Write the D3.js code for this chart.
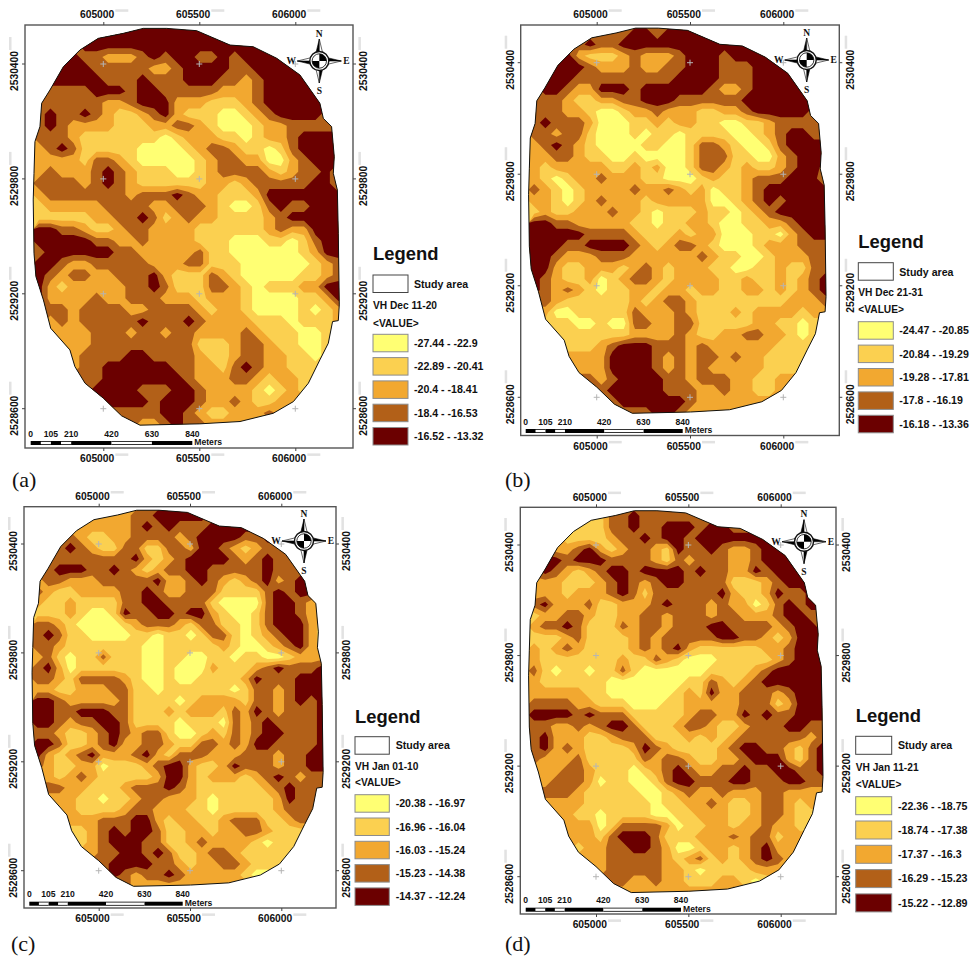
<!DOCTYPE html>
<html>
<head>
<meta charset="utf-8">
<title>VH backscatter maps</title>
<script src="https://cdn.jsdelivr.net/npm/d3@7"></script>
<style>
    html, body { margin: 0; padding: 0; background: #fff; }
    svg { display: block; }
    text { font-family: "Liberation Sans", Arial, sans-serif; font-weight: bold; fill: #111; }
</style>
</head>
<body>
<svg id="chart" width="978" height="956"></svg>
<script>
// map easting / northing ticks
const xTicks = [605000, 605500, 606000];
const yTicks = [2530400, 2529800, 2529200, 2528600];
const scaleBarMeters = [0, 105, 210, 420, 630, 840];
const classColors = ["#ffff73", "#fbd050", "#f2a830", "#b26018", "#6b0000"];

// class grid: 27 x 35 cells of 60 m, digit = legend class (0 lightest, 4 darkest)
const gridOriginX = 604635;
const gridOriginY = 2530587;
const gridCell = 60;

// study area outline in map metres [easting, northing]
const studyArea = [
    [605208, 2530586], [605330, 2530586], [605486, 2530574], [605660, 2530499], [605781, 2530490],
    [605903, 2530430], [606024, 2530343], [606128, 2530195], [606146, 2530116], [606189, 2530073],
    [606203, 2529916], [606198, 2529829], [606219, 2529742], [606224, 2529516], [606229, 2529142],
    [606224, 2529060], [606194, 2529055], [606172, 2528942], [606128, 2528855], [606068, 2528733],
    [605990, 2528637], [605885, 2528576], [605712, 2528533], [605503, 2528521], [605191, 2528514],
    [605095, 2528563], [605000, 2528655], [604905, 2528733], [604852, 2528820], [604826, 2528907],
    [604726, 2529020], [604688, 2529168], [604649, 2529290], [604639, 2529412], [604635, 2529690],
    [604639, 2529829], [604644, 2529995], [604670, 2530073], [604679, 2530195], [604722, 2530264],
    [604792, 2530386], [604878, 2530473], [604974, 2530534], [605104, 2530560]
];

const gridA = [
    "444444444444444444444444444", "333344444444444444444444444", "444433222343443343444444444",
    "444443333322344443344444444", "444444333433344433234444444", "333334443443333322234444444",
    "333333223444222111234444444", "343343211234211100123444433", "343222211122332100012233333",
    "333211111110122211012234444", "234311111000012332110134444", "222213321000001233220023444",
    "232223432111001233332123342", "333323432111111221233333442", "233333332333432211124444444",
    "122222333322333210013433444", "111112233431232211112344444", "443321123322221111112322444",
    "444443322322221110001101344", "344444433222223110000001244", "443223333322233111000000123",
    "432332233342111321000001123", "421222223343111332101112244", "422223223332221222100001124",
    "333233332233332122100001012", "323233333433343222211101112", "222223332332332222321110011",
    "222223333333331112332110011", "222233334433332112332211011", "222233444444332213432211111",
    "333333444444432223321221111", "333334444333443222210121111", "333333444434443223211222222",
    "333333333334432112223222222", "333333333223433222222222222"
];
const gridB = [
    "333333333443444444444444444", "333334334444444444444444444", "444421112322234443444444444",
    "444443222322334443334444444", "444433333333344443334444444", "344322444344444432234444444",
    "333211223344433333344444444", "333221001223222112234444433", "343332000112122110011233333",
    "332331000101101111001234433", "234321000011001332100134444", "223321100100001333110023444",
    "212222211212001332121123443", "210122322211000121123334442", "321012222322321201123444444",
    "221012322212222200123434444", "121122232210111211012344444", "443322222110112210011223444",
    "444443333211121220001102344", "444334444321233210001222333", "443222333222222321100122233",
    "442112221232122211001121133", "432112012332122221121121234", "432321011221221221122121234",
    "332111111212332111111112223", "220011111322232111212222122", "111100100332233111112211011",
    "111111111222232112233221011", "111111234443332322222211111", "222222244443232332322111111",
    "222222244443232322222111111", "333333234444332333221122222", "333333344444333223221122222",
    "333333334444443222222222222", "333333333334432222222222222"
];
const gridC = [
    "222222222334444433333333333", "222222222343433344444444444", "444321122333323444433444444",
    "433432113311332443212333333", "333333333421234444323433333", "334443343212334433333433333",
    "233222333334223432123423443", "321122223343223331111343443", "211211113344333310000344322",
    "111210014334434421001344322", "332100001233321331101344421", "343110000110110133101234421",
    "332111111100111112100123421", "231011311100110011011001222", "342011111100100021112343334",
    "332133332100100111124333444", "221122233110111111013323444", "443222223111101222213323434",
    "443344433111212221324323334", "443233443111101110323433334", "332112343233100121323443334",
    "443112342233211332324433334", "421234222342133322233323344", "321122011123442112433323344",
    "221232111112442122212343233", "333221112333432111111234333", "222211011233222101111124333",
    "222211112332221101111123333", "222222333442122112333112333", "222112343443112212233211111",
    "222212344433112322221011111", "222222334434311233211111111", "333333344443321223321111111",
    "333333343233432222210011111", "222222223222222222222222222"
];
const gridD = [
    "111111133433333333333333333", "111111133433444344333333333", "222111123343443444444444444",
    "332234212332143343223444444", "344344433332132333223444444", "343212344344443433224344444",
    "222111234323443333111234444", "222122234313333334211243344", "342223112223433323220134344",
    "122332112233233323322234433", "233431113233233344333323443", "111231111232333334433212444",
    "212321111232342111111223444", "211111112113210001111123444", "310110113100000011112344444",
    "211111100000001132123444444", "222221100000012142233323444", "333322111000112222233312444",
    "444434333111112332243433444", "332232344311123321123334433", "342221123331112121233333323",
    "342321111243211112344332134", "322231111132332112234442134", "222332111012343223343344334",
    "223332011001344333443334433", "333321111100123223222332222", "222221111110112232112332122",
    "222211011110011222112332111", "222222013333201122122322111", "222222134443111222323312222",
    "222212233443200122123422222", "222222233333212312123432222", "222222233333221011112222222",
    "333333333223221112210122222", "222222222222222222322222222"
];

// legend titles and class labels
const titlesA = "VH Dec 11-20";
const titlesB = "VH Dec 21-31";
const titlesC = "VH Jan 01-10";
const titlesD = "VH Jan 11-21";
const rangesA = ["-27.44 - -22.9", "-22.89 - -20.41", "-20.4 - -18.41", "-18.4 - -16.53", "-16.52 - -13.32"];
const rangesB = ["-24.47 - -20.85", "-20.84 - -19.29", "-19.28 - -17.81", "-17.8 - -16.19", "-16.18 - -13.36"];
const rangesC = ["-20.38 - -16.97", "-16.96 - -16.04", "-16.03 - -15.24", "-15.23 - -14.38", "-14.37 - -12.24"];
const rangesD = ["-22.36 - -18.75", "-18.74 - -17.38", "-17.37 - -16.3", "-16.29 - -15.23", "-15.22 - -12.89"];

// layout of each of the four map sheets, in page pixels
const panels = [
    { id: "a", grid: gridA, title: titlesA, ranges: rangesA,
      frame: [25, 25, 353, 448], xr: [103.3, 295.3], yr: [64, 408.7],
      bar: [30.7, 192.3, 441], compass: [319.3, 61],
      legend: { x: 373, w: 35, text: 414, head: 260, box: 275, study: 288, vh: 309, val: 327, sw: 334.3, step: 23.3, h: 17.5 },
      tag: [12, 487] },
    { id: "b", grid: gridB, title: titlesB, ranges: rangesB,
      frame: [520.7, 25, 839.3, 435.5], xr: [596.7, 783.3], yr: [62.7, 397.3],
      bar: [525.7, 682.7, 429], compass: [806.7, 60],
      legend: { x: 858.3, w: 35, text: 899.3, head: 248, box: 262.7, study: 276, vh: 295.7, val: 313, sw: 321.7, step: 23.4, h: 17.5 },
      tag: [505, 487] },
    { id: "c", grid: gridC, title: titlesC, ranges: rangesC,
      frame: [24, 506.7, 336, 908], xr: [98.7, 281.3], yr: [544, 870.7],
      bar: [29.3, 182.7, 901.7], compass: [304, 541],
      legend: { x: 355, w: 34.3, text: 395.7, head: 723.3, box: 736.7, study: 749, vh: 769.7, val: 786, sw: 794.7, step: 23.3, h: 17.5 },
      tag: [11, 951] },
    { id: "d", grid: gridD, title: titlesD, ranges: rangesD,
      frame: [520.3, 507.3, 836, 914], xr: [596, 780.7], yr: [545, 876.7],
      bar: [525.7, 681, 907.7], compass: [804, 541.7],
      legend: { x: 855.7, w: 36, text: 898, head: 721.7, box: 736.3, study: 749.3, vh: 770.7, val: 788.3, sw: 796.7, step: 24.3, h: 18 },
      tag: [505, 951] }
];

const svg = d3.select("#chart");

panels.forEach(function (p) {
    const g = svg.append("g").attr("class", "panel-" + p.id);

    const x = d3.scaleLinear().domain([605000, 606000]).range(p.xr);
    const y = d3.scaleLinear().domain([2530400, 2528600]).range(p.yr);

    // Frame
    const [fx0, fy0, fx1, fy1] = p.frame;
    g.append("rect")
        .attr("x", fx0).attr("y", fy0)
        .attr("width", fx1 - fx0).attr("height", fy1 - fy0)
        .attr("fill", "none").attr("stroke", "#555").attr("stroke-width", 1.4);

    // Raster classes, clipped to the study area
    const outline = d3.line().x(d => x(d[0])).y(d => y(d[1])).curve(d3.curveLinearClosed);
    g.append("clipPath").attr("id", "clip-" + p.id)
        .append("path").attr("d", outline(studyArea));

    const values = [];
    p.grid.forEach(function (row) {
        d3.range(27).forEach(i => values.push(+(row[i] ?? row[row.length - 1])));
    });

    const contours = d3.contours().size([27, p.grid.length]).thresholds([0.5, 1.5, 2.5, 3.5])(values);
    const toPage = d3.geoTransform({
        point: function (cx, cy) {
            this.stream.point(x(gridOriginX + cx * gridCell), y(gridOriginY - cy * gridCell));
        }
    });
    const contourPath = d3.geoPath(toPage);

    const map = g.append("g").attr("clip-path", `url(#clip-${p.id})`);
    map.append("path").attr("d", outline(studyArea)).attr("fill", classColors[0]);
    map.selectAll("path.band")
        .data(contours)
        .join("path")
        .attr("class", "band")
        .attr("d", contourPath)
        .attr("fill", (d, i) => classColors[i + 1]);

    g.append("path").attr("d", outline(studyArea))
        .attr("fill", "none").attr("stroke", "#111").attr("stroke-width", 1);

    // Graticule crosses
    xTicks.forEach(function (tx) {
        yTicks.forEach(function (ty) {
            g.append("path")
                .attr("d", `M${x(tx) - 3},${y(ty)}H${x(tx) + 3}M${x(tx)},${y(ty) - 3}V${y(ty) + 3}`)
                .attr("stroke", "#b5b5b5").attr("stroke-width", 1).attr("fill", "none");
        });
    });

    // Axes on all four sides
    const fmt = d3.format("d");
    const xAxis = function (axis, yPos, baseline) {
        const a = g.append("g").attr("transform", `translate(0,${yPos})`)
            .call(axis.tickValues(xTicks).tickFormat(fmt).tickSize(3).tickSizeOuter(0));
        a.select(".domain").remove();
        a.selectAll("line").attr("stroke", "#444");
        a.selectAll("text")
            .attr("font-size", 10.3).attr("font-family", null)
            .attr("text-anchor", "middle")
            .attr("dx", -6.7).attr("dy", 0)
            .attr("y", baseline - yPos);
        // the faint stub left after each label
        xTicks.forEach(function (tx) {
            g.append("rect").attr("x", x(tx) + 12).attr("y", baseline - 9)
                .attr("width", 13).attr("height", 2.5).attr("fill", "#e2e2e2");
        });
    };
    xAxis(d3.axisTop(x), fy0, fy0 - 6.7);
    xAxis(d3.axisBottom(x), fy1, fy1 + 14.4);

    const yAxis = function (axis, xPos, baseline) {
        const a = g.append("g").attr("transform", `translate(${xPos},0)`)
            .call(axis.tickValues(yTicks).tickFormat(fmt).tickSize(3).tickSizeOuter(0));
        a.select(".domain").remove();
        a.selectAll("line").attr("stroke", "#444");
        a.selectAll("text")
            .attr("font-size", 10.3).attr("font-family", null)
            .attr("text-anchor", "middle")
            .attr("dy", 0).attr("x", 0).attr("y", 0)
            .attr("transform", d => `translate(${baseline - xPos},${y(d) + 7}) rotate(-90) translate(0,0)`);
        // tick groups already carry translate(0,y), undo it for the labels
        a.selectAll(".tick").attr("transform", null);
        a.selectAll(".tick line").attr("transform", d => `translate(0,${y(d)})`);
        yTicks.forEach(function (ty) {
            g.append("rect").attr("x", baseline - 9).attr("y", y(ty) - 27)
                .attr("width", 2.5).attr("height", 13).attr("fill", "#e2e2e2");
        });
    };
    yAxis(d3.axisLeft(y), fx0, fx0 - 7);
    yAxis(d3.axisRight(y), fx1, fx1 + 14.4);

    // Scale bar
    const [bx0, bx1, by] = p.bar;
    const m = d3.scaleLinear().domain([0, 840]).range([bx0, bx1]);
    const barEdges = d3.pairs(scaleBarMeters);
    g.selectAll("rect.bar")
        .data(barEdges)
        .join("rect")
        .attr("class", "bar")
        .attr("x", d => m(d[0]))
        .attr("y", by)
        .attr("width", d => m(d[1]) - m(d[0]))
        .attr("height", 4)
        .attr("fill", "#000");
    // white halves of the bar
    const whiteEdges = [[52.5, 105], [157.5, 210], [420, 630]];
    g.selectAll("rect.barw")
        .data(whiteEdges)
        .join("rect")
        .attr("class", "barw")
        .attr("x", d => m(d[0]))
        .attr("y", by + 0.8)
        .attr("width", d => m(d[1]) - m(d[0]))
        .attr("height", 2.4)
        .attr("fill", "#fff");
    g.selectAll("text.barl")
        .data(scaleBarMeters)
        .join("text")
        .attr("class", "barl")
        .attr("x", d => m(d))
        .attr("y", by - 4.5)
        .attr("text-anchor", "middle")
        .attr("font-size", 8.6)
        .text(d => d);
    g.append("text").attr("x", bx1 + 2).attr("y", by + 4)
        .attr("font-size", 8.6).text("Meters");

    // North arrow
    const c = g.append("g").attr("transform", `translate(${p.compass[0]},${p.compass[1]})`);
    [0, 90, 180, 270].forEach(function (rot) {
        const arm = c.append("g").attr("transform", `rotate(${rot})`);
        arm.append("path").attr("d", "M0,-22L-3.6,-7L0,-7Z").attr("fill", "#000").attr("stroke", "#000").attr("stroke-width", 0.6);
        arm.append("path").attr("d", "M0,-22L3.6,-7L0,-7Z").attr("fill", "#fff").attr("stroke", "#000").attr("stroke-width", 0.6);
    });
    c.append("circle").attr("r", 9.5).attr("fill", "#fff").attr("stroke", "#111").attr("stroke-width", 1.4);
    const quarter = d3.arc().innerRadius(0).outerRadius(7.2);
    [0, Math.PI].forEach(function (start) {
        c.append("path").attr("d", quarter({ startAngle: start, endAngle: start + Math.PI / 2 })).attr("fill", "#000");
    });
    c.append("circle").attr("r", 7.2).attr("fill", "none").attr("stroke", "#000").attr("stroke-width", 0.8);
    const compassLetters = [["N", 0, -24.5], ["S", 0, 33], ["W", -28, 3], ["E", 27, 3]];
    c.selectAll("text")
        .data(compassLetters)
        .join("text")
        .attr("x", d => d[1]).attr("y", d => d[2])
        .attr("text-anchor", "middle")
        .attr("font-size", 9.5)
        .style("font-family", '"Liberation Serif", serif')
        .text(d => d[0]);

    // Legend
    const L = p.legend;
    g.append("text").attr("x", L.x).attr("y", L.head).attr("font-size", 18.4).text("Legend");
    g.append("rect").attr("x", L.x).attr("y", L.box).attr("width", L.w).attr("height", L.h)
        .attr("fill", "#fff").attr("stroke", "#444").attr("stroke-width", 1);
    g.append("text").attr("x", L.text).attr("y", L.study).attr("font-size", 10.6).text("Study area");
    g.append("text").attr("x", L.x).attr("y", L.vh).attr("font-size", 10.2).text(p.title);
    g.append("text").attr("x", L.x).attr("y", L.val).attr("font-size", 10.2).text("<VALUE>");

    g.selectAll("rect.sw")
        .data(classColors)
        .join("rect")
        .attr("class", "sw")
        .attr("x", L.x)
        .attr("y", (d, i) => L.sw + i * L.step)
        .attr("width", L.w)
        .attr("height", L.h)
        .attr("fill", d => d)
        .attr("stroke", "#8c8c8c")
        .attr("stroke-width", 1);
    g.selectAll("text.sl")
        .data(p.ranges)
        .join("text")
        .attr("class", "sl")
        .attr("x", L.text)
        .attr("y", (d, i) => L.sw + i * L.step + L.h / 2 + 3.8)
        .attr("font-size", 10.6)
        .text(d => d);

    // Sheet letter
    g.append("text").attr("x", p.tag[0]).attr("y", p.tag[1])
        .attr("font-size", 22)
        .style("font-family", '"Liberation Serif", serif')
        .style("font-weight", "normal")
        .text(`(${p.id})`);
});
</script>
</body>
</html>
